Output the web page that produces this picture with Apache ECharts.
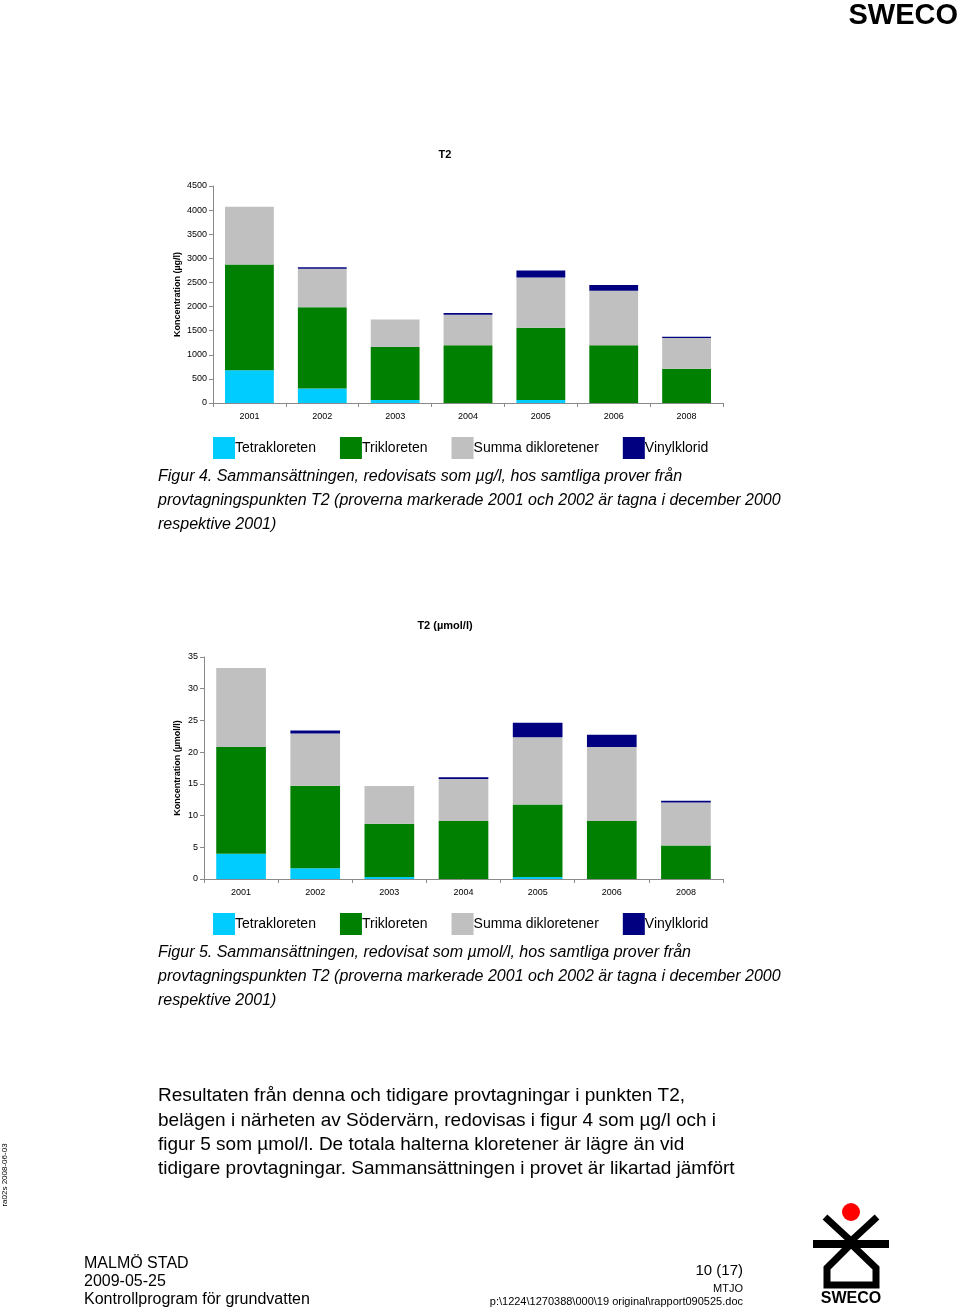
<!DOCTYPE html>
<html>
<head>
<meta charset="utf-8">
<script src="https://cdn.jsdelivr.net/npm/echarts@6/dist/echarts.min.js"></script>
<style>
html,body{margin:0;padding:0;background:#fff;}
#c{width:960px;height:1311px;}
</style>
</head>
<body>
<div id="c"></div>
<script>
// ---- data ----
const categories = ['2001','2002','2003','2004','2005','2006','2008'];
const seriesNames = ['Tetrakloreten','Trikloreten','Summa dikloretener','Vinylklorid'];
// Figure 4, µg/l
const tetraUg = [680, 300, 60, 0, 60, 0, 0];
const triUg   = [2190, 1685, 1100, 1200, 1500, 1200, 710];
const diklUg  = [1200, 800, 570, 630, 1040, 1130, 640];
const vinylUg = [0, 30, 0, 35, 150, 115, 25];
// Figure 5, µmol/l
const tetraUm = [4.0, 1.7, 0.3, 0, 0.3, 0, 0];
const triUm   = [16.8, 13.0, 8.4, 9.15, 11.45, 9.15, 5.3];
const diklUm  = [12.45, 8.25, 5.95, 6.6, 10.6, 11.65, 6.75];
const vinylUm = [0, 0.45, 0, 0.3, 2.3, 1.95, 0.3];
const yTicks1 = {min:0, max:4500, interval:500};
const yTicks2 = {min:0, max:35, interval:5};

const colors = ['#00CCFF','#008000','#C0C0C0','#000080'];
const FONT = '"Liberation Sans", Arial, sans-serif';

const chart = echarts.init(document.getElementById('c'), null, {renderer:'canvas'});

function xAx(gi){
  return {
    type:'category', gridIndex:gi, data:categories,
    axisLine:{show:true, lineStyle:{color:'#8a8a8a', width:1}},
    axisTick:{show:true, length:4, lineStyle:{color:'#8a8a8a'}},
    axisLabel:{fontFamily:FONT, fontSize:9, color:'#000', margin:9}
  };
}
function yAx(gi, t, name, gap){
  return {
    type:'value', gridIndex:gi, min:t.min, max:t.max, interval:t.interval,
    name:name, nameLocation:'middle', nameRotate:90, nameGap:gap, nameMoveOverlap:false,
    nameTextStyle:{fontFamily:FONT, fontSize:9, fontWeight:'bold', color:'#000'},
    axisLine:{show:true, lineStyle:{color:'#8a8a8a', width:1}},
    axisTick:{show:true, length:4, lineStyle:{color:'#8a8a8a'}},
    axisLabel:{fontFamily:FONT, fontSize:9, color:'#000', margin:6, formatter:v=>String(v)},
    splitLine:{show:false}
  };
}
function mk(gi, stack, arrays){
  return arrays.map((d,i)=>({
    name:seriesNames[i], type:'bar', stack:stack,
    xAxisIndex:gi, yAxisIndex:gi, data:d,
    barCategoryGap:'33%',
    itemStyle:{color:colors[i]},
    emphasis:{disabled:true},
    animation:false
  }));
}
function legend(top){
  return {
    top:top, left:213, orient:'horizontal', padding:0,
    icon:'rect', itemWidth:22, itemHeight:22, itemGap:24,
    data:seriesNames,
    textStyle:{fontFamily:FONT, fontSize:14, color:'#000', padding:[0,0,0,-5]},
    selectedMode:false
  };
}

const option = {
  backgroundColor:'#fff',
  animation:false,
  title:[
    {text:'T2', left:440, top:144, textAlign:'center',
     textStyle:{fontFamily:FONT, fontSize:11, fontWeight:'bold', color:'#000'}},
    {text:'T2 (µmol/l)', left:440, top:615, textAlign:'center',
     textStyle:{fontFamily:FONT, fontSize:11, fontWeight:'bold', color:'#000'}}
  ],
  legend:[legend(437), legend(913)],
  grid:[
    {left:213, top:186, width:510, height:217},
    {left:204, top:657, width:519, height:222}
  ],
  xAxis:[xAx(0), xAx(1)],
  yAxis:[yAx(0, yTicks1, 'Koncentration (µg/l)', 31), yAx(1, yTicks2, 'Koncentration (µmol/l)', 22)],
  series:[].concat(
    mk(0,'ug',[tetraUg, triUg, diklUg, vinylUg]),
    mk(1,'um',[tetraUm, triUm, diklUm, vinylUm])
  ),
  graphic:[
    // top-right logo text
    {type:'text', right:2, top:1, style:{text:'SWECO', fontFamily:FONT, fontSize:29, fontWeight:'bold', fill:'#000'}},
    // captions
    {type:'text', left:158, top:465, style:{
      text:'Figur 4. Sammansättningen, redovisats som µg/l, hos samtliga prover från\nprovtagningspunkten T2 (proverna markerade 2001 och 2002 är tagna i december 2000\nrespektive 2001)',
      fontFamily:FONT, fontSize:16, fontStyle:'italic', lineHeight:24, fill:'#000'}},
    {type:'text', left:158, top:941, style:{
      text:'Figur 5. Sammansättningen, redovisat som µmol/l, hos samtliga prover från\nprovtagningspunkten T2 (proverna markerade 2001 och 2002 är tagna i december 2000\nrespektive 2001)',
      fontFamily:FONT, fontSize:16, fontStyle:'italic', lineHeight:24, fill:'#000'}},
    // body text
    {type:'text', left:158, top:1084, style:{
      text:'Resultaten från denna och tidigare provtagningar i punkten T2,\nbelägen i närheten av Södervärn, redovisas i figur 4 som µg/l och i\nfigur 5 som µmol/l. De totala halterna kloretener är lägre än vid\ntidigare provtagningar. Sammansättningen i provet är likartad jämfört',
      fontFamily:FONT, fontSize:19, lineHeight:24.3, fill:'#000'}},
    // side text
    {type:'text', x:5, y:1175, rotation:Math.PI/2, style:{
      text:'ra02s 2008-06-03', fontFamily:FONT, fontSize:8, fill:'#000', align:'center', verticalAlign:'middle'}},
    // footer left
    {type:'text', left:84, top:1255, style:{
      text:'MALMÖ STAD\n2009-05-25\nKontrollprogram för grundvatten',
      fontFamily:FONT, fontSize:16, lineHeight:18, fill:'#000'}},
    // footer right
    {type:'text', x:743, y:1271, style:{text:'10 (17)', fontFamily:FONT, fontSize:15, fill:'#000', align:'right', verticalAlign:'middle'}},
    {type:'text', x:743, y:1289, style:{text:'MTJO', fontFamily:FONT, fontSize:11, fill:'#000', align:'right', verticalAlign:'middle'}},
    {type:'text', x:743, y:1302, style:{text:'p:\\1224\\1270388\\000\\19 original\\rapport090525.doc', fontFamily:FONT, fontSize:11, fill:'#000', align:'right', verticalAlign:'middle'}},
    // bottom logo
    {type:'circle', shape:{cx:851, cy:1212, r:9}, style:{fill:'#FF0000'}},
    {type:'polyline', shape:{points:[[825,1217],[851,1241],[877,1217]]}, style:{stroke:'#000', lineWidth:7, fill:null}},
    {type:'line', shape:{x1:813, y1:1244, x2:889, y2:1244}, style:{stroke:'#000', lineWidth:8}},
    {type:'polyline', shape:{points:[[851,1244],[827,1268],[827,1285],[876,1285],[876,1268],[851,1244]]}, style:{stroke:'#000', lineWidth:7, fill:null, lineJoin:'miter'}},
    {type:'text', x:851, y:1299, style:{text:'SWECO', fontFamily:FONT, fontSize:16, fontWeight:'bold', fill:'#000', align:'center', verticalAlign:'middle'}}
  ]
};
chart.setOption(option);
</script>
</body>
</html>
